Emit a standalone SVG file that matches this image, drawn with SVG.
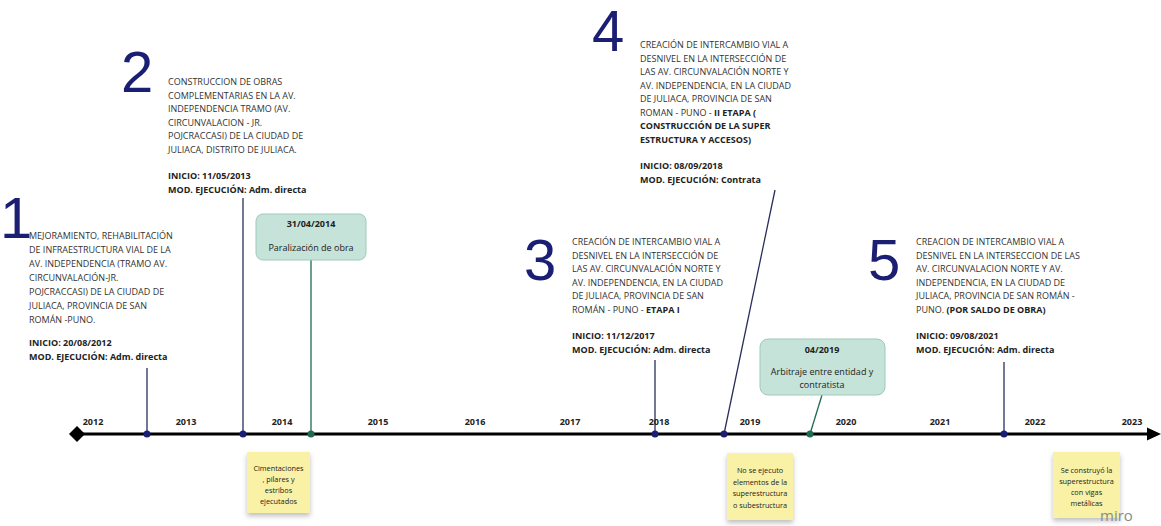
<svg xmlns="http://www.w3.org/2000/svg" width="1161" height="526" viewBox="0 0 1161 526">
<defs>
<filter id="sh" x="-20%" y="-20%" width="140%" height="150%"><feDropShadow dx="0" dy="3" stdDeviation="2.5" flood-color="#000" flood-opacity="0.25"/></filter>
</defs>
<style>
.num{font-family:"Liberation Sans",Arial,sans-serif;font-size:58px;fill:#1b1f73}
.t{font-family:"Open Sans",sans-serif;font-size:9px;fill:#333}
.b{font-weight:bold;fill:#222}
.yr{font-family:"Open Sans",sans-serif;font-size:9px;font-weight:bold;fill:#222;text-anchor:middle}
.box{fill:#c5e3d8;stroke:#9fc9b8;stroke-width:1}
.bt{font-family:"Open Sans",sans-serif;font-size:9px;fill:#222;text-anchor:middle}
.note{fill:#f9f1a5}
.nt{font-family:"Open Sans",sans-serif;font-size:7.3px;fill:#222;text-anchor:middle}
.ln{stroke:#2a2d5a;stroke-width:1.3;fill:none}
.gl{stroke:#1e6b4f;stroke-width:1.3;fill:none}
.dn{fill:#1b1f73}
.dg{fill:#1e6b4f}
</style>
<rect width="1161" height="526" fill="#fff"/>
<g id="connectors">
<line class="ln" x1="147" y1="368" x2="147" y2="434"/>
<line class="ln" x1="243" y1="198" x2="243" y2="434"/>
<line class="gl" x1="311" y1="260" x2="311" y2="434"/>
<line class="ln" x1="655" y1="360" x2="655" y2="434"/>
<path class="ln" d="M775,190 Q748,320 724,434"/>
<line class="gl" x1="822" y1="395" x2="810" y2="434"/>
<line class="ln" x1="1004" y1="362" x2="1004" y2="434"/>
</g>
<g id="axis">
<line x1="77" y1="434" x2="1150" y2="434" stroke="#000" stroke-width="3"/>
<polygon points="1147,427.5 1161,434 1147,440.5" fill="#000"/>
<polygon points="77,426 85,434 77,442 69,434" fill="#000"/>
<circle class="dn" cx="147" cy="434" r="3.5"/>
<circle class="dn" cx="243" cy="434" r="3.5"/>
<circle class="dg" cx="311" cy="434" r="3.5"/>
<circle class="dn" cx="655" cy="434" r="3.5"/>
<circle class="dn" cx="724" cy="434" r="3.5"/>
<circle class="dg" cx="810" cy="434" r="3.5"/>
<circle class="dn" cx="1004" cy="434" r="3.5"/>
<text class="yr" x="93" y="425">2012</text>
<text class="yr" x="186" y="425">2013</text>
<text class="yr" x="282" y="425">2014</text>
<text class="yr" x="378" y="425">2015</text>
<text class="yr" x="475" y="425">2016</text>
<text class="yr" x="570" y="425">2017</text>
<text class="yr" x="659" y="425">2018</text>
<text class="yr" x="750" y="425">2019</text>
<text class="yr" x="846" y="425">2020</text>
<text class="yr" x="940" y="425">2021</text>
<text class="yr" x="1035" y="425">2022</text>
<text class="yr" x="1132" y="425">2023</text>
</g>
<g id="event1">
<text class="num" x="0" y="238" font-size="55">1</text>
<text class="t" x="29" y="239">MEJORAMIENTO, REHABILITACIÓN</text>
<text class="t" x="29" y="253">DE INFRAESTRUCTURA VIAL DE LA</text>
<text class="t" x="29" y="267">AV. INDEPENDENCIA (TRAMO AV.</text>
<text class="t" x="29" y="281">CIRCUNVALACIÓN-JR.</text>
<text class="t" x="29" y="295">POJCRACCASI) DE LA CIUDAD DE</text>
<text class="t" x="29" y="309">JULIACA, PROVINCIA DE SAN</text>
<text class="t" x="29" y="323">ROMÁN -PUNO.</text>
<text class="t b" x="29" y="346">INICIO: 20/08/2012</text>
<text class="t b" x="29" y="360">MOD. EJECUCIÓN: Adm. directa</text>
</g>
<g id="event2">
<text class="num" x="121" y="92">2</text>
<text class="t" x="168" y="85">CONSTRUCCION DE OBRAS</text>
<text class="t" x="168" y="98.5">COMPLEMENTARIAS EN LA AV.</text>
<text class="t" x="168" y="112">INDEPENDENCIA TRAMO (AV.</text>
<text class="t" x="168" y="125.5">CIRCUNVALACION - JR.</text>
<text class="t" x="168" y="139">POJCRACCASI) DE LA CIUDAD DE</text>
<text class="t" x="168" y="152.5">JULIACA, DISTRITO DE JULIACA.</text>
<text class="t b" x="168" y="179">INICIO: 11/05/2013</text>
<text class="t b" x="168" y="192.5">MOD. EJECUCIÓN: Adm. directa</text>
</g>
<g id="paralizacion">
<rect class="box" x="256" y="214" width="110" height="46" rx="7"/>
<text class="bt b" x="311" y="227">31/04/2014</text>
<text class="bt" x="311" y="251">Paralización de obra</text>
</g>
<g id="event3">
<text class="num" x="524" y="280">3</text>
<text class="t" x="572" y="245">CREACIÓN DE INTERCAMBIO VIAL A</text>
<text class="t" x="572" y="258.5">DESNIVEL EN LA INTERSECCIÓN DE</text>
<text class="t" x="572" y="272">LAS AV. CIRCUNVALACIÓN NORTE Y</text>
<text class="t" x="572" y="285.5">AV. INDEPENDENCIA, EN LA CIUDAD</text>
<text class="t" x="572" y="299">DE JULIACA, PROVINCIA DE SAN</text>
<text class="t" x="572" y="312.5">ROMÁN - PUNO - <tspan class="b">ETAPA I</tspan></text>
<text class="t b" x="572" y="339">INICIO: 11/12/2017</text>
<text class="t b" x="572" y="352.5">MOD. EJECUCIÓN: Adm. directa</text>
</g>
<g id="event4">
<text class="num" x="592" y="51" font-size="48">4</text>
<text class="t" x="640" y="48">CREACIÓN DE INTERCAMBIO VIAL A</text>
<text class="t" x="640" y="61.5">DESNIVEL EN LA INTERSECCIÓN DE</text>
<text class="t" x="640" y="75">LAS AV. CIRCUNVALACIÓN NORTE Y</text>
<text class="t" x="640" y="88.5">AV. INDEPENDENCIA, EN LA CIUDAD</text>
<text class="t" x="640" y="102">DE JULIACA, PROVINCIA DE SAN</text>
<text class="t" x="640" y="115.5">ROMAN - PUNO - <tspan class="b">II ETAPA (</tspan></text>
<text class="t b" x="640" y="129">CONSTRUCCIÓN DE LA SUPER</text>
<text class="t b" x="640" y="142.5">ESTRUCTURA Y ACCESOS)</text>
<text class="t b" x="640" y="169">INICIO: 08/09/2018</text>
<text class="t b" x="640" y="182.5">MOD. EJECUCIÓN: Contrata</text>
</g>
<g id="arbitraje">
<rect class="box" x="760" y="339" width="125" height="56" rx="8"/>
<text class="bt b" x="822" y="353">04/2019</text>
<text class="bt" x="822" y="375">Arbitraje entre entidad y</text>
<text class="bt" x="822" y="388">contratista</text>
</g>
<g id="event5">
<text class="num" x="868" y="280">5</text>
<text class="t" x="916" y="245">CREACION DE INTERCAMBIO VIAL A</text>
<text class="t" x="916" y="258.5">DESNIVEL EN LA INTERSECCION DE LAS</text>
<text class="t" x="916" y="272">AV. CIRCUNVALACION NORTE Y AV.</text>
<text class="t" x="916" y="285.5">INDEPENDENCIA, EN LA CIUDAD DE</text>
<text class="t" x="916" y="299">JULIACA, PROVINCIA DE SAN ROMÁN -</text>
<text class="t" x="916" y="312.5">PUNO. <tspan class="b">(POR SALDO DE OBRA)</tspan></text>
<text class="t b" x="916" y="339">INICIO: 09/08/2021</text>
<text class="t b" x="916" y="352.5">MOD. EJECUCIÓN: Adm. directa</text>
</g>
<g id="note1">
<rect class="note" x="247" y="452" width="63" height="61" filter="url(#sh)"/>
<text class="nt" x="278.5" y="471">Cimentaciones</text>
<text class="nt" x="278.5" y="482">, pilares y</text>
<text class="nt" x="278.5" y="493">estribos</text>
<text class="nt" x="278.5" y="504">ejecutados</text>
</g>
<g id="note2">
<rect class="note" x="727" y="453" width="66" height="67" filter="url(#sh)"/>
<text class="nt" x="760" y="473">No se ejecuto</text>
<text class="nt" x="760" y="484.5">elementos de la</text>
<text class="nt" x="760" y="496">superestructura</text>
<text class="nt" x="760" y="507.5">o subestructura</text>
</g>
<g id="note3">
<rect class="note" x="1053" y="452" width="67" height="66" filter="url(#sh)"/>
<text class="nt" x="1086.5" y="473">Se construyó la</text>
<text class="nt" x="1086.5" y="484">superestructura</text>
<text class="nt" x="1086.5" y="495">con vigas</text>
<text class="nt" x="1086.5" y="506">metálicas</text>
</g>
<text x="1100" y="521" font-family="'Open Sans',sans-serif" font-size="15" fill="#8a8a8a">miro</text>
</svg>
